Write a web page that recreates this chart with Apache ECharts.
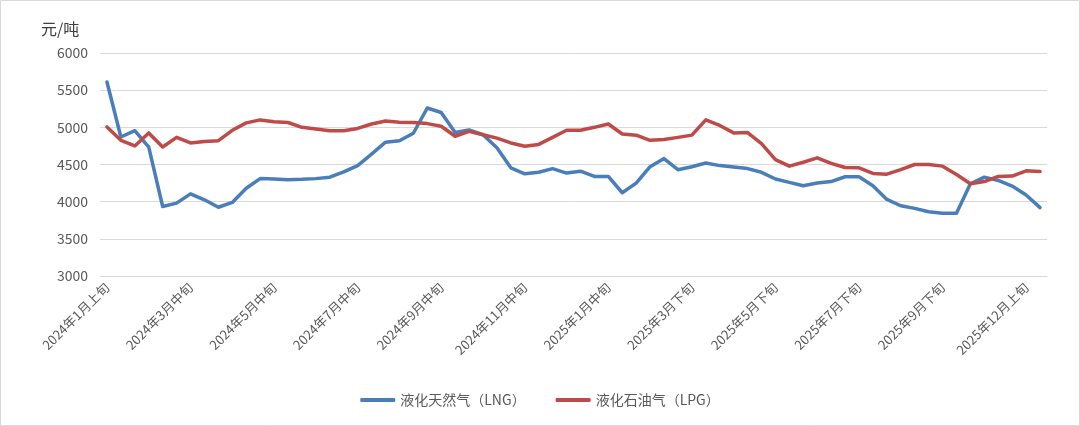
<!DOCTYPE html>
<html>
<head>
<meta charset="utf-8">
<script src="https://cdn.jsdelivr.net/npm/echarts@6/dist/echarts.min.js"></script>
<style>
html,body{margin:0;padding:0;background:#fff;}
#c{width:1080px;height:426px;}
</style>
</head>
<body>
<div id="c"></div>
<script>
const categories = [
 '2024年1月上旬','2024年1月中旬','2024年1月下旬','2024年2月上旬','2024年2月下旬','2024年3月上旬','2024年3月中旬','2024年3月下旬',
 '2024年4月上旬','2024年4月中旬','2024年4月下旬','2024年5月上旬','2024年5月中旬','2024年5月下旬','2024年6月上旬','2024年6月中旬',
 '2024年6月下旬','2024年7月上旬','2024年7月中旬','2024年7月下旬','2024年8月上旬','2024年8月中旬','2024年8月下旬','2024年9月上旬',
 '2024年9月中旬','2024年9月下旬','2024年10月上旬','2024年10月中旬','2024年10月下旬','2024年11月上旬','2024年11月中旬','2024年11月下旬',
 '2024年12月上旬','2024年12月中旬','2024年12月下旬','2025年1月上旬','2025年1月中旬','2025年1月下旬','2025年2月中旬','2025年2月下旬',
 '2025年3月上旬','2025年3月中旬','2025年3月下旬','2025年4月上旬','2025年4月中旬','2025年4月下旬','2025年5月上旬','2025年5月中旬',
 '2025年5月下旬','2025年6月上旬','2025年6月中旬','2025年6月下旬','2025年7月上旬','2025年7月中旬','2025年7月下旬','2025年8月上旬',
 '2025年8月中旬','2025年8月下旬','2025年9月上旬','2025年9月中旬','2025年9月下旬','2025年10月中旬','2025年10月下旬','2025年11月上旬',
 '2025年11月中旬','2025年11月下旬','2025年12月上旬','2025年12月中旬'
];
const lngValues = [
 5610,4870,4955,4735,3935,3980,4105,4025,3925,3990,4180,4310,4305,4295,4300,4310,
 4330,4400,4485,4640,4800,4820,4920,5260,5200,4930,4965,4900,4725,4455,4375,4395,
 4445,4385,4410,4340,4340,4120,4250,4470,4580,4430,4470,4520,4485,4465,4445,4395,
 4305,4260,4215,4250,4270,4335,4335,4215,4030,3945,3910,3865,3843,3843,4240,4330,
 4285,4210,4090,3920
];
const lpgValues = [
 5005,4825,4750,4925,4735,4865,4790,4810,4820,4960,5060,5100,5075,5065,5000,4977,
 4955,4955,4985,5045,5085,5068,5065,5050,5015,4880,4945,4900,4855,4790,4745,4770,
 4865,4960,4960,5000,5045,4910,4895,4825,4835,4865,4895,5100,5025,4925,4930,4780,
 4565,4478,4530,4590,4515,4460,4455,4380,4370,4430,4500,4500,4478,4365,4240,4270,
 4340,4345,4415,4405
];
const seriesNames = ['液化天然气（LNG）','液化石油气（LPG）'];
const yTicks = {min:3000, max:6000, interval:500};
const unitLabel = '元/吨';

const chart = echarts.init(document.getElementById('c'), null, {renderer:'canvas'});
const font = "'Noto Sans CJK SC', 'Noto Sans', sans-serif";
chart.setOption({
  animation:false,
  backgroundColor:'#ffffff',
  graphic:[{type:'rect', shape:{x:0.5,y:0.5,width:1079,height:425}, style:{fill:'none', stroke:'#d9d9d9', lineWidth:1}, silent:true}],
  title:{text:unitLabel, left:36, top:16, textStyle:{fontFamily:font, fontSize:16, fontWeight:'normal', color:'#404040'}},
  legend:{
    data:seriesNames, bottom:14, left:'center', itemWidth:35, itemHeight:4, itemGap:30, icon:'roundRect',
    textStyle:{fontFamily:font, fontSize:14, color:'#595959'}
  },
  grid:{left:100, right:33, top:53, bottom:150, containLabel:false},
  xAxis:{
    type:'category', data:categories, boundaryGap:true,
    axisLine:{show:true, lineStyle:{color:'#d9d9d9', width:1}},
    axisTick:{show:false},
    axisLabel:{interval:5, rotate:45, margin:9, fontFamily:font, fontSize:13, color:'#595959'}
  },
  yAxis:{
    type:'value', min:yTicks.min, max:yTicks.max, interval:yTicks.interval,
    axisLine:{show:false}, axisTick:{show:false},
    axisLabel:{margin:12, fontFamily:font, fontSize:14, color:'#595959', formatter:function(v){return String(v);}},
    splitLine:{lineStyle:{color:'#d9d9d9', width:1}}
  },
  series:[
    {name:seriesNames[0], type:'line', data:lngValues, showSymbol:false, symbol:'none',
     lineStyle:{color:'#4A7EBB', width:3.5, cap:'round', join:'round'}, itemStyle:{color:'#4A7EBB'}},
    {name:seriesNames[1], type:'line', data:lpgValues, showSymbol:false, symbol:'none',
     lineStyle:{color:'#BE4B48', width:3.5, cap:'round', join:'round'}, itemStyle:{color:'#BE4B48'}}
  ]
});
</script>
</body>
</html>
